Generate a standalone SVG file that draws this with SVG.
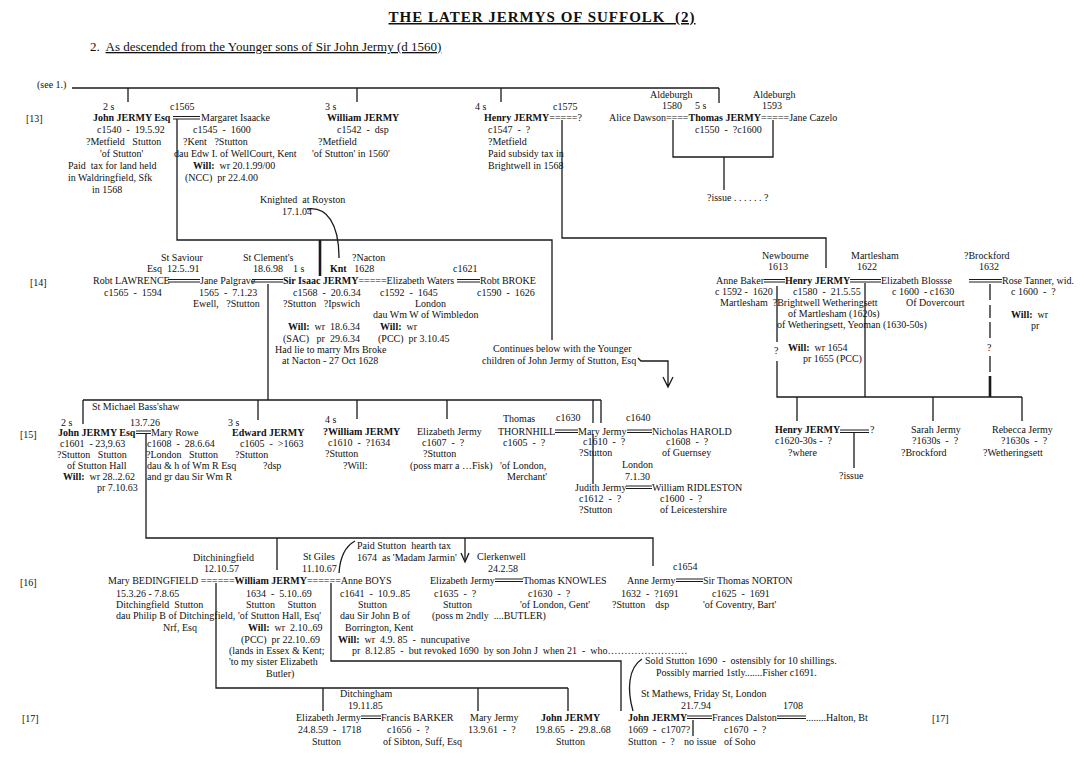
<svg xmlns="http://www.w3.org/2000/svg" width="1084" height="769" viewBox="0 0 1084 769">
<style>
text{font-family:"Liberation Serif","Times New Roman",serif;font-size:10px;fill:#111;white-space:pre}
.b{font-weight:bold}
.ttl{font-size:15px;font-weight:bold;letter-spacing:1px;text-decoration:underline}
.sub{font-size:13px}
.ln{stroke:#1a1a1a;stroke-width:1.3;fill:none}
.tk{stroke:#1a1a1a;stroke-width:2.6;fill:none}
.mm{stroke:#1a1a1a;stroke-width:1;fill:none}
</style>
<rect width="1084" height="769" fill="#fff"/>
<g id="title">
<text x="542" y="22" text-anchor="middle" class="ttl">THE LATER JERMYS OF SUFFOLK  (2)</text>
<text x="90" y="51" class="sub">2.  <tspan style="text-decoration:underline">As descended from the Younger sons of Sir John Jermy (d 1560)</tspan></text>
</g>
<g id="generations">
<text x="26" y="122">[13]</text>
<text x="30" y="286">[14]</text>
<text x="20" y="438">[15]</text>
<text x="20" y="586">[16]</text>
<text x="22" y="722">[17]</text>
<text x="932" y="722">[17]</text>
</g>
<g id="connectors">
<path class="ln" d="M72,88 H719"/>
<path class="ln" d="M128,88 V102 M357,88 V102 M501,88 V102 M719,88 V103"/>
<path class="ln" d="M177,119 V240 H552 V340"/>
<path class="tk" d="M320,240 V276"/>
<path class="ln" d="M562,120 V238 H826 V268"/>
<path class="ln" d="M673,120 V157 H773 V120 M724,157 V190"/>
<path class="ln" d="M307,209 C327,206 339,224 339,258"/>
<path class="ln" d="M268,284 V400"/>
<path class="ln" d="M83,400 H601 M83,400 V424 M258,400 V420 M357,400 V419 M447,400 V419 M593,400 V423 M593,434 V484 M601,400 V423"/>
<path class="ln" d="M638,358 L641,361 H668 V386 M663,377 L668,387 L673,377"/>
<path class="ln" d="M777,286 V342 M777,361 V397 H1022 M865,283 V397 M797,397 V421 M933,397 V421 M1022,397 V421"/>
<path class="ln" d="M990,284 V300 M990,305 V318 M990,322 V338 M990,356 V372"/>
<path class="tk" d="M990,376 V397"/>
<path class="ln" d="M854,432 V468"/>
<path class="ln" d="M146,434 V538 H653 V566 M277,538 V570 M465,538 V560"/>
<path class="ln" d="M461,553 L465,562 L469,553"/>
<path class="ln" d="M355,541 C346,546 340,557 339,573"/>
<path class="ln" d="M216,583 V688 H568 M323,688 V711 M478,688 V711 M568,688 V711"/>
<path class="ln" d="M331,583 V661 H621 V711"/>
<path class="ln" d="M642,659 C628,668 627,690 633,711"/>
<path class="ln" d="M693,720 V736"/>
<path class="mm" d="M173,116.5 H200 M173,119 H200"/>
<path class="mm" d="M168,279.5 H200 M168,282 H200 M252,279.5 H283 M252,282 H283 M457,279.5 H480 M457,282 H480"/>
<path class="mm" d="M764,279.5 H785 M764,282 H785 M850,279.5 H881 M850,282 H881 M969,279.5 H1002 M969,282 H1002"/>
<path class="mm" d="M136,431 H151 M136,433.5 H151 M555,430 H578 M555,432.5 H578 M627,430 H652 M627,432.5 H652 M626,486 H652 M626,488.5 H652 M840,430 H869 M840,432.5 H869"/>
<path class="mm" d="M495,579 H523 M495,581.5 H523 M676,579 H703 M676,581.5 H703"/>
<path class="mm" d="M361,716 H381 M361,718.5 H381 M687,716 H712 M687,718.5 H712 M777,716 H806 M777,718.5 H806"/>
</g>
<g id="see1"><text x="37" y="88">(see 1.)</text></g>
<g id="john-1540">
<text x="103" y="110">2 s</text>
<text x="170" y="110">c1565</text>
<text x="93" y="121" class="b">John JERMY Esq</text>
<text x="97" y="133">c1540  -  19.5.92</text>
<text x="86" y="145">?Metfield   Stutton</text>
<text x="100" y="157">'of Stutton'</text>
<text x="68" y="169">Paid  tax for land held</text>
<text x="68" y="181">in Waldringfield, Sfk</text>
<text x="92" y="193">in 1568</text>
</g>
<g id="margaret-isaacke">
<text x="201" y="121">Margaret Isaacke</text>
<text x="193" y="133">c1545  -  1600</text>
<text x="183" y="145">?Kent   ?Stutton</text>
<text x="174" y="157">dau Edw I. of WellCourt, Kent</text>
<text x="193" y="169"><tspan class="b">Will:</tspan>  wr 20.1.99/00</text>
<text x="185" y="181">(NCC)  pr 22.4.00</text>
</g>
<g id="william-1542">
<text x="325" y="110">3 s</text>
<text x="327" y="121" class="b">William JERMY</text>
<text x="337" y="133">c1542  -  dsp</text>
<text x="318" y="145">?Metfield</text>
<text x="312" y="157">'of Stutton' in 1560'</text>
</g>
<g id="henry-1547">
<text x="475" y="110">4 s</text>
<text x="553" y="110">c1575</text>
<text x="484" y="121"><tspan class="b">Henry JERMY</tspan>=====?</text>
<text x="488" y="133">c1547  -  ?</text>
<text x="488" y="145">?Metfield</text>
<text x="488" y="157">Paid subsidy tax in</text>
<text x="488" y="169">Brightwell in 1568</text>
</g>
<g id="thomas-1550">
<text x="650" y="98">Aldeburgh</text>
<text x="662" y="109">1580</text>
<text x="695" y="109">5 s</text>
<text x="753" y="98">Aldeburgh</text>
<text x="762" y="109">1593</text>
<text x="609" y="121">Alice Dawson====<tspan class="b">Thomas JERMY</tspan>=====Jane Cazelo</text>
<text x="695" y="133">c1550  -  ?c1600</text>
<text x="707" y="201">?issue . . . . . . ?</text>
</g>
<g id="knighted">
<text x="260" y="203">Knighted  at Royston</text>
<text x="282" y="215">17.1.04</text>
</g>
<g id="robt-lawrence">
<text x="161" y="261">St Saviour</text>
<text x="147" y="272">Esq  12.5..91</text>
<text x="93" y="284">Robt LAWRENCE</text>
<text x="104" y="296">c1565  -  1594</text>
</g>
<g id="jane-palgrave">
<text x="200" y="284">Jane Palgrave</text>
<text x="199" y="296">1565  -  7.1.23</text>
<text x="193" y="307">Ewell,   ?Stutton</text>
</g>
<g id="isaac-jermy">
<text x="243" y="261">St Clement's</text>
<text x="253" y="272">18.6.98    1 s</text>
<text x="352" y="261">?Nacton</text>
<text x="330" y="272"><tspan class="b">Knt</tspan>   1628</text>
<text x="283" y="284"><tspan class="b">Sir Isaac JERMY</tspan>=====Elizabeth Waters</text>
<text x="293" y="296">c1568  -  20.6.34</text>
<text x="283" y="307">?Stutton   ?Ipswich</text>
<text x="288" y="330"><tspan class="b">Will:</tspan>  wr  18.6.34</text>
<text x="283" y="342">(SAC)   pr  29.6.34</text>
<text x="275" y="353">Had lie to marry Mrs Broke</text>
<text x="282" y="364">at Nacton - 27 Oct 1628</text>
</g>
<g id="elizabeth-waters">
<text x="380" y="296">c1592  -  1645</text>
<text x="415" y="307">London</text>
<text x="373" y="318">dau Wm W of Wimbledon</text>
<text x="380" y="330"><tspan class="b">Will:</tspan>  wr</text>
<text x="378" y="342">(PCC)  pr 3.10.45</text>
</g>
<g id="robt-broke">
<text x="453" y="272">c1621</text>
<text x="480" y="284">Robt BROKE</text>
<text x="477" y="296">c1590  -  1626</text>
</g>
<g id="continues-note">
<text x="493" y="352">Continues below with the Younger</text>
<text x="482" y="364">children of John Jermy of Stutton, Esq</text>
</g>
<g id="henry-1580">
<text x="762" y="259">Newbourne</text>
<text x="768" y="270">1613</text>
<text x="851" y="259">Martlesham</text>
<text x="857" y="270">1622</text>
<text x="716" y="284">Anne Baker</text>
<text x="785" y="284" class="b">Henry JERMY</text>
<text x="881" y="284">Elizabeth Blossse</text>
<text x="715" y="295">c 1592 -  1620</text>
<text x="793" y="295">c1580  -  21.5.55</text>
<text x="892" y="295">c 1600  - c1630</text>
<text x="720" y="306">Martlesham  ?Brightwell Wetheringsett</text>
<text x="906" y="306">Of Dovercourt</text>
<text x="788" y="317">of Martlesham (1620s)</text>
<text x="777" y="328">of Wetheringsett, Yeoman (1630-50s)</text>
<text x="774" y="354">?</text>
<text x="788" y="351"><tspan class="b">Will:</tspan>  wr 1654</text>
<text x="803" y="362">pr 1655 (PCC)</text>
</g>
<g id="rose-tanner">
<text x="964" y="259">?Brockford</text>
<text x="979" y="270">1632</text>
<text x="1002" y="284">Rose Tanner, wid.</text>
<text x="1011" y="295">c 1600  -  ?</text>
<text x="1011" y="318"><tspan class="b">Will:</tspan>  wr</text>
<text x="1031" y="329">pr</text>
<text x="987" y="351">?</text>
</g>
<g id="john-1601">
<text x="92" y="410">St Michael Bass'shaw</text>
<text x="61" y="426">2 s</text>
<text x="130" y="426">13.7.26</text>
<text x="58" y="436" class="b">John JERMY Esq</text>
<text x="60" y="447">c1601  - 23,9.63</text>
<text x="57" y="458">?Stutton   Stutton</text>
<text x="67" y="469">of Stutton Hall</text>
<text x="63" y="480"><tspan class="b">Will:</tspan>  wr 28..2.62</text>
<text x="97" y="491">pr 7.10.63</text>
</g>
<g id="mary-rowe">
<text x="151" y="436">Mary Rowe</text>
<text x="147" y="447">c1608  -  28.6.64</text>
<text x="146" y="458">?London   Stutton</text>
<text x="147" y="469">dau &amp; h of Wm R Esq</text>
<text x="147" y="480">and gr dau Sir Wm R</text>
</g>
<g id="edward-jermy">
<text x="228" y="426">3 s</text>
<text x="232" y="436" class="b">Edward JERMY</text>
<text x="240" y="447">c1605  -  &gt;1663</text>
<text x="235" y="458">?Stutton</text>
<text x="263" y="469">?dsp</text>
</g>
<g id="william-1610">
<text x="325" y="423">4 s</text>
<text x="323" y="435" class="b">?William JERMY</text>
<text x="328" y="446">c1610  -  ?1634</text>
<text x="325" y="457">?Stutton</text>
<text x="343" y="469">?Will:</text>
</g>
<g id="elizabeth-1607">
<text x="417" y="435">Elizabeth Jermy</text>
<text x="422" y="446">c1607  -  ?</text>
<text x="423" y="457">?Stutton</text>
<text x="410" y="469">(poss marr a …Fisk)</text>
</g>
<g id="thomas-thornhill">
<text x="503" y="422">Thomas</text>
<text x="498" y="435">THORNHILL</text>
<text x="503" y="446">c1605  -  ?</text>
<text x="500" y="469">'of London,</text>
<text x="507" y="480">Merchant'</text>
</g>
<g id="mary-1610">
<text x="556" y="421">c1630</text>
<text x="578" y="435">Mary Jermy</text>
<text x="583" y="445">c1610  -  ?</text>
<text x="579" y="456">?Stutton</text>
</g>
<g id="nicholas-harold">
<text x="626" y="421">c1640</text>
<text x="652" y="435">Nicholas HAROLD</text>
<text x="666" y="445">c1608  -  ?</text>
<text x="662" y="456">of Guernsey</text>
</g>
<g id="judith-1612">
<text x="622" y="468">London</text>
<text x="625" y="480">7.1.30</text>
<text x="575" y="491">Judith Jermy</text>
<text x="579" y="502">c1612  -  ?</text>
<text x="579" y="513">?Stutton</text>
</g>
<g id="william-ridleston">
<text x="652" y="491">William RIDLESTON</text>
<text x="660" y="502">c1600  -  ?</text>
<text x="660" y="513">of Leicestershire</text>
</g>
<g id="henry-1620">
<text x="775" y="433" class="b">Henry JERMY</text>
<text x="870" y="433">?</text>
<text x="775" y="444">c1620-30s -  ?</text>
<text x="788" y="456">?where</text>
<text x="839" y="479">?issue</text>
</g>
<g id="sarah-jermy">
<text x="911" y="433">Sarah Jermy</text>
<text x="912" y="444">?1630s  -  ?</text>
<text x="901" y="456">?Brockford</text>
</g>
<g id="rebecca-jermy">
<text x="992" y="433">Rebecca Jermy</text>
<text x="1001" y="444">?1630s  -  ?</text>
<text x="983" y="456">?Wetheringsett</text>
</g>
<g id="mary-bedingfield">
<text x="193" y="561">Ditchiningfield</text>
<text x="204" y="572">12.10.57</text>
<text x="116" y="597">15.3.26 - 7.8.65</text>
<text x="116" y="608">Ditchingfield  Stutton</text>
<text x="116" y="619">dau Philip B of Ditchingfield,</text>
<text x="163" y="631">Nrf, Esq</text>
</g>
<g id="william-1634">
<text x="108" y="584">Mary BEDINGFIELD ======<tspan class="b">William JERMY</tspan>======Anne BOYS</text>
<text x="246" y="597">1634  -  5.10..69</text>
<text x="246" y="608">Stutton     Stutton</text>
<text x="238" y="619">'of Stutton Hall, Esq'</text>
<text x="248" y="631"><tspan class="b">Will:</tspan>  wr  2.10..69</text>
<text x="241" y="643">(PCC)  pr 22.10..69</text>
<text x="229" y="654">(lands in Essex &amp; Kent;</text>
<text x="229" y="665">'to my sister Elizabeth</text>
<text x="266" y="677">Butler)</text>
</g>
<g id="anne-boys">
<text x="303" y="560">St Giles</text>
<text x="302" y="572">11.10.67</text>
<text x="357" y="549">Paid Stutton  hearth tax</text>
<text x="357" y="561">1674  as 'Madam Jarmin'</text>
<text x="340" y="597">c1641  -  10.9..85</text>
<text x="358" y="608">Stutton</text>
<text x="340" y="619">dau Sir John B of</text>
<text x="345" y="631">Borrington, Kent</text>
<text x="338" y="643"><tspan class="b">Will:</tspan>  wr  4.9. 85  -  nuncupative</text>
<text x="352" y="654">pr  8.12.85  -  but revoked 1690  by son John J  when 21  -  who……………………</text>
</g>
<g id="elizabeth-1635">
<text x="477" y="560">Clerkenwell</text>
<text x="488" y="572">24.2.58</text>
<text x="430" y="584">Elizabeth Jermy</text>
<text x="434" y="597">c1635  -  ?</text>
<text x="443" y="608">Stutton</text>
<text x="432" y="619">(poss m 2ndly  ....BUTLER)</text>
</g>
<g id="thomas-knowles">
<text x="523" y="584">Thomas KNOWLES</text>
<text x="528" y="597">c1630  -  ?</text>
<text x="520" y="608">'of London, Gent'</text>
</g>
<g id="anne-1632">
<text x="673" y="570">c1654</text>
<text x="627" y="584">Anne Jermy</text>
<text x="621" y="597">1632  -  ?1691</text>
<text x="612" y="608">?Stutton    dsp</text>
</g>
<g id="thomas-norton">
<text x="703" y="584">Sir Thomas NORTON</text>
<text x="712" y="597">c1625  -  1691</text>
<text x="703" y="608">'of Coventry, Bart'</text>
</g>
<g id="elizabeth-1659">
<text x="340" y="697">Ditchingham</text>
<text x="348" y="709">19.11.85</text>
<text x="296" y="721">Elizabeth Jermy</text>
<text x="298" y="733">24.8.59  -  1718</text>
<text x="312" y="745">Stutton</text>
</g>
<g id="francis-barker">
<text x="381" y="721">Francis BARKER</text>
<text x="387" y="733">c1656  -  ?</text>
<text x="383" y="745">of Sibton, Suff, Esq</text>
</g>
<g id="mary-1661">
<text x="470" y="721">Mary Jermy</text>
<text x="468" y="733">13.9.61  -  ?</text>
</g>
<g id="john-1665">
<text x="541" y="721" class="b">John JERMY</text>
<text x="535" y="733">19.8.65  -  29.8..68</text>
<text x="556" y="745">Stutton</text>
</g>
<g id="john-1669">
<text x="645" y="664">Sold Stutton 1690  -  ostensibly for 10 shillings.</text>
<text x="656" y="676">Possibly married 1stly.......Fisher c1691.</text>
<text x="641" y="697">St Mathews, Friday St, London</text>
<text x="681" y="709">21.7.94</text>
<text x="628" y="721" class="b">John JERMY</text>
<text x="628" y="733">1669  -  c1707?</text>
<text x="628" y="745">Stutton  -  ?</text>
<text x="684" y="745">no issue</text>
</g>
<g id="frances-dalston">
<text x="783" y="709">1708</text>
<text x="712" y="721">Frances Dalston</text>
<text x="806" y="721">........Halton, Bt</text>
<text x="724" y="733">c1670  -  ?</text>
<text x="724" y="745">of Soho</text>
</g>
</svg>
